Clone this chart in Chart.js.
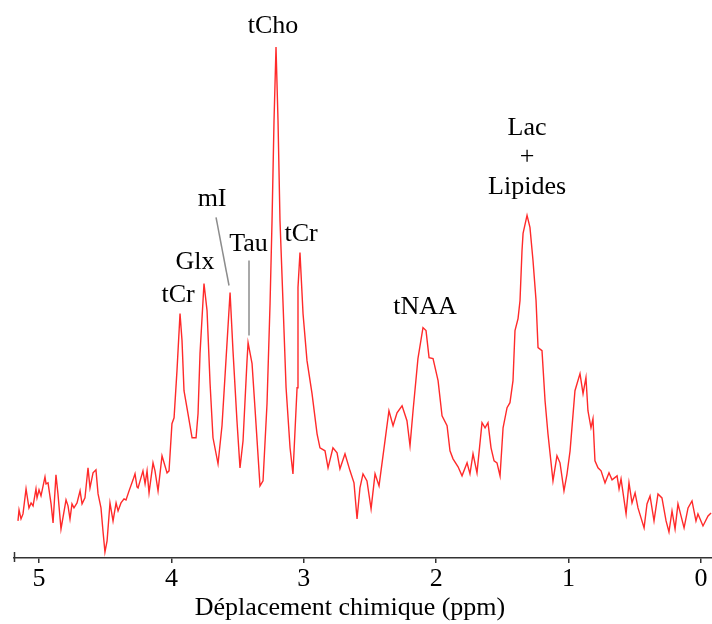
<!DOCTYPE html>
<html>
<head>
<meta charset="utf-8">
<script src="https://cdn.jsdelivr.net/npm/chart.js@4/dist/chart.umd.min.js"></script>
<style>
  html, body { margin: 0; padding: 0; background: #fff; }
  #wrap { width: 712px; height: 624px; }
</style>
</head>
<body>
<div id="wrap"><canvas id="spectrum" width="712" height="624"></canvas></div>
<script>
// Chemical shift (ppm) and signal intensity (arbitrary units)
const ppm = [
  5.159, 5.151, 5.136, 5.121, 5.098, 5.076, 5.060, 5.045, 5.023, 5.015,
  5.000, 4.985, 4.955, 4.947, 4.932, 4.909, 4.894, 4.872, 4.857, 4.834,
  4.796, 4.781, 4.766, 4.751, 4.736, 4.713, 4.690, 4.675, 4.653, 4.630,
  4.615, 4.592, 4.570, 4.554, 4.532, 4.517, 4.502, 4.486, 4.464, 4.441,
  4.418, 4.403, 4.381, 4.358, 4.343, 4.320, 4.290, 4.275, 4.260, 4.252,
  4.215, 4.199, 4.184, 4.169, 4.139, 4.124, 4.101, 4.071, 4.033, 4.018,
  3.996, 3.980, 3.958, 3.935, 3.920, 3.905, 3.875, 3.844, 3.814, 3.799,
  3.784, 3.754, 3.731, 3.708, 3.686, 3.648, 3.618, 3.595, 3.557, 3.535,
  3.505, 3.482, 3.459, 3.429, 3.421, 3.391, 3.369, 3.331, 3.308, 3.278,
  3.255, 3.240, 3.225, 3.210, 3.195, 3.180, 3.157, 3.134, 3.104, 3.082,
  3.051, 3.044, 3.029, 3.006, 2.976, 2.938, 2.900, 2.878, 2.840, 2.817,
  2.780, 2.749, 2.727, 2.689, 2.651, 2.621, 2.598, 2.576, 2.553, 2.523,
  2.492, 2.462, 2.432, 2.387, 2.357, 2.326, 2.296, 2.258, 2.221, 2.198,
  2.175, 2.138, 2.100, 2.077, 2.054, 2.024, 1.986, 1.956, 1.918, 1.896,
  1.873, 1.835, 1.805, 1.767, 1.745, 1.722, 1.692, 1.654, 1.631, 1.609,
  1.586, 1.563, 1.541, 1.518, 1.495, 1.465, 1.443, 1.420, 1.405, 1.382,
  1.367, 1.352, 1.344, 1.314, 1.292, 1.269, 1.246, 1.231, 1.201, 1.178,
  1.156, 1.118, 1.088, 1.065, 1.035, 1.012, 0.989, 0.952, 0.914, 0.891,
  0.869, 0.854, 0.831, 0.816, 0.801, 0.778, 0.755, 0.725, 0.695, 0.672,
  0.634, 0.619, 0.604, 0.566, 0.544, 0.521, 0.498, 0.476, 0.430, 0.408,
  0.385, 0.355, 0.325, 0.295, 0.264, 0.242, 0.219, 0.196, 0.174, 0.151,
  0.128, 0.098, 0.068, 0.038, 0.023, -0.015, -0.053, -0.076
];
const intensity = [
  37, 48, 39, 44, 69, 50, 55, 52, 69, 60,
  68, 62, 81, 74, 75, 54, 35, 83, 64, 29,
  58, 52, 39, 54, 50, 55, 67, 54, 60, 90,
  70, 85, 88, 64, 50, 27, 6, 17, 55, 37,
  55, 47, 55, 59, 58, 67, 78, 84, 71, 70,
  87, 74, 87, 65, 95, 87, 67, 102, 85, 87,
  134, 140, 187, 244, 217, 167, 144, 120, 120, 144,
  204, 274, 247, 174, 120, 94, 132, 182, 265, 207,
  137, 90, 117, 197, 215, 194, 150, 72, 77, 154,
  254, 337, 437, 510, 437, 337, 254, 170, 110, 84,
  170, 270, 305, 244, 197, 164, 124, 110, 107, 90,
  110, 105, 89, 104, 87, 75, 39, 70, 84, 77,
  49, 84, 72, 117, 147, 132, 145, 152, 137, 112,
  147, 199, 230, 227, 200, 199, 177, 142, 132, 107,
  99, 91, 82, 95, 84, 104, 85, 135, 130, 135,
  110, 97, 95, 82, 130, 150, 155, 177, 227, 239,
  257, 307, 324, 342, 330, 297, 257, 210, 207, 157,
  124, 77, 102, 95, 67, 84, 107, 167, 184, 164,
  180, 147, 130, 139, 97, 90, 87, 75, 85, 78,
  82, 69, 79, 44, 75, 55, 65, 50, 30, 54,
  62, 37, 64, 60, 37, 26, 47, 29, 54, 42,
  30, 50, 57, 37, 44, 32, 42, 45
];
const tickValues = [0, 1, 2, 3, 4, 5];
const xTitle = "Déplacement chimique (ppm)";
const xTitleCenter = 2.651; // ppm under the middle of the axis title

// peak names, anchored at [ppm, intensity]
const peakLabels = [
  { text: "tCho", at: [3.233, 531] },
  { text: "tCr", at: [3.950, 262] },
  { text: "Glx", at: [3.822, 295] },
  { text: "mI", at: [3.693, 358] },
  { text: "Tau", at: [3.418, 313] },
  { text: "tCr", at: [3.021, 323] },
  { text: "tNAA", at: [2.085, 250] },
  { text: "Lac", at: [1.314, 429] },
  { text: "+", at: [1.314, 400] },
  { text: "Lipides", at: [1.314, 370] }
];
// leader lines for mI and Tau
const leaders = [
  [[3.663, 340], [3.565, 272]],
  [[3.414, 297], [3.414, 222]]
];

const SERIF = "'Liberation Serif', 'DejaVu Serif', serif";

const annotate = {
  id: "annotate",
  afterDatasetsDraw(chart) {
    const { ctx, scales: { x, y }, chartArea } = chart;
    ctx.save();
    // small stub at the left end of the axis
    ctx.strokeStyle = "#333";
    ctx.lineWidth = 1.5;
    ctx.beginPath();
    ctx.moveTo(chartArea.left + 0.5, chartArea.bottom - 6);
    ctx.lineTo(chartArea.left + 0.5, chartArea.bottom + 4);
    ctx.stroke();

    ctx.strokeStyle = "#8c8c8c";
    ctx.lineWidth = 1.5;
    leaders.forEach(([a, b]) => {
      ctx.beginPath();
      ctx.moveTo(x.getPixelForValue(a[0]), y.getPixelForValue(a[1]));
      ctx.lineTo(x.getPixelForValue(b[0]), y.getPixelForValue(b[1]));
      ctx.stroke();
    });

    ctx.fillStyle = "#000";
    ctx.font = "26px " + SERIF;
    ctx.textAlign = "center";
    ctx.textBaseline = "middle";
    peakLabels.forEach(l => {
      ctx.fillText(l.text, x.getPixelForValue(l.at[0]), y.getPixelForValue(l.at[1]));
    });

    // axis title, a little left of the plot centre as in the original
    ctx.fillText(xTitle, x.getPixelForValue(xTitleCenter), chartArea.bottom + 50);
    ctx.restore();
  }
};

new Chart(document.getElementById("spectrum").getContext("2d"), {
  type: "line",
  data: {
    datasets: [{
      data: ppm.map((p, i) => ({ x: p, y: intensity[i] })),
      borderColor: "#ff2a2a",
      borderWidth: 1.4,
      pointRadius: 0,
      tension: 0,
      fill: false
    }]
  },
  options: {
    responsive: false,
    animation: false,
    devicePixelRatio: 1,
    layout: { padding: { left: 14, right: 0, top: 10, bottom: 29 } },
    plugins: { legend: { display: false }, tooltip: { enabled: false } },
    scales: {
      x: {
        type: "linear",
        reverse: true,
        min: -0.083,
        max: 5.189,
        afterBuildTicks: axis => { axis.ticks = tickValues.map(v => ({ value: v })); },
        grid: { drawOnChartArea: false, drawTicks: true, tickLength: 5, color: "#333", lineWidth: 1.5 },
        border: { display: true, color: "#333", width: 1.5 },
        ticks: { color: "#000", padding: 3, maxRotation: 0, font: { family: SERIF, size: 26, lineHeight: 1 } },
        title: { display: false, text: xTitle }
      },
      y: { display: false, min: 0, max: 547 }
    }
  },
  plugins: [annotate]
});
</script>
</body>
</html>
